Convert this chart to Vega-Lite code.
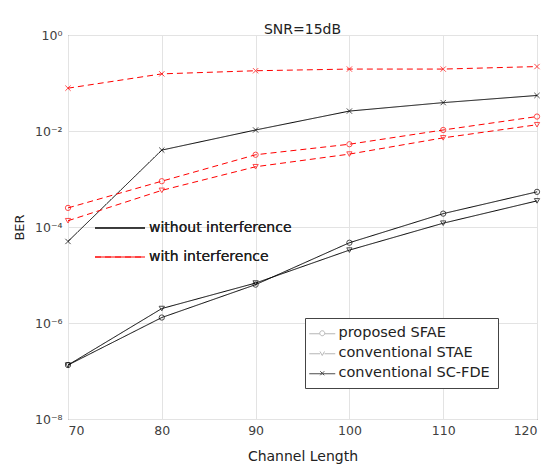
{
  "$schema": "https://vega.github.io/schema/vega-lite/v6.json",
  "width": 469,
  "height": 384,
  "autosize": {"type": "none"},
  "padding": {"left": 68, "top": 35, "right": 6, "bottom": 45},
  "background": "white",
  "title": {"text": "SNR=15dB", "fontSize": 14, "fontWeight": "normal", "font": "DejaVu Sans", "color": "#222", "anchor": "middle", "baseline": "alphabetic", "offset": 8, "dy": 27},
  "config": {
    "view": {"stroke": "#555", "strokeWidth": 1},
    "font": "DejaVu Sans",
    "axis": {"labelFont": "DejaVu Sans", "titleFont": "DejaVu Sans", "labelColor": "#404040", "titleColor": "#222", "titleFontWeight": "normal", "labelFontSize": 12.5, "titleFontSize": 14, "gridColor": "#e3e3e3", "gridWidth": 1, "domain": false, "ticks": false},
    "legend": {"labelFont": "DejaVu Sans", "labelColor": "#222"}
  },
  "resolve": {"scale": {"color": "independent", "shape": "independent"}},
  "data": {"values": [
    {"x": 70, "ber": 1.33e-7, "method": "proposed SFAE", "cond": "without interference"},
    {"x": 80, "ber": 1.3e-6, "method": "proposed SFAE", "cond": "without interference"},
    {"x": 90, "ber": 6.3e-6, "method": "proposed SFAE", "cond": "without interference"},
    {"x": 100, "ber": 4.7e-5, "method": "proposed SFAE", "cond": "without interference"},
    {"x": 110, "ber": 1.9e-4, "method": "proposed SFAE", "cond": "without interference"},
    {"x": 120, "ber": 5.4e-4, "method": "proposed SFAE", "cond": "without interference"},
    {"x": 70, "ber": 1.33e-7, "method": "conventional STAE", "cond": "without interference"},
    {"x": 80, "ber": 2.0e-6, "method": "conventional STAE", "cond": "without interference"},
    {"x": 90, "ber": 6.8e-6, "method": "conventional STAE", "cond": "without interference"},
    {"x": 100, "ber": 3.3e-5, "method": "conventional STAE", "cond": "without interference"},
    {"x": 110, "ber": 1.2e-4, "method": "conventional STAE", "cond": "without interference"},
    {"x": 120, "ber": 3.5e-4, "method": "conventional STAE", "cond": "without interference"},
    {"x": 70, "ber": 5.0e-5, "method": "conventional SC-FDE", "cond": "without interference"},
    {"x": 80, "ber": 4.0e-3, "method": "conventional SC-FDE", "cond": "without interference"},
    {"x": 90, "ber": 1.05e-2, "method": "conventional SC-FDE", "cond": "without interference"},
    {"x": 100, "ber": 2.6e-2, "method": "conventional SC-FDE", "cond": "without interference"},
    {"x": 110, "ber": 3.9e-2, "method": "conventional SC-FDE", "cond": "without interference"},
    {"x": 120, "ber": 5.5e-2, "method": "conventional SC-FDE", "cond": "without interference"},
    {"x": 70, "ber": 2.5e-4, "method": "proposed SFAE", "cond": "with interference"},
    {"x": 80, "ber": 9.0e-4, "method": "proposed SFAE", "cond": "with interference"},
    {"x": 90, "ber": 3.2e-3, "method": "proposed SFAE", "cond": "with interference"},
    {"x": 100, "ber": 5.3e-3, "method": "proposed SFAE", "cond": "with interference"},
    {"x": 110, "ber": 1.05e-2, "method": "proposed SFAE", "cond": "with interference"},
    {"x": 120, "ber": 2.0e-2, "method": "proposed SFAE", "cond": "with interference"},
    {"x": 70, "ber": 1.35e-4, "method": "conventional STAE", "cond": "with interference"},
    {"x": 80, "ber": 5.8e-4, "method": "conventional STAE", "cond": "with interference"},
    {"x": 90, "ber": 1.8e-3, "method": "conventional STAE", "cond": "with interference"},
    {"x": 100, "ber": 3.3e-3, "method": "conventional STAE", "cond": "with interference"},
    {"x": 110, "ber": 7.2e-3, "method": "conventional STAE", "cond": "with interference"},
    {"x": 120, "ber": 1.35e-2, "method": "conventional STAE", "cond": "with interference"},
    {"x": 70, "ber": 7.8e-2, "method": "conventional SC-FDE", "cond": "with interference"},
    {"x": 80, "ber": 0.155, "method": "conventional SC-FDE", "cond": "with interference"},
    {"x": 90, "ber": 0.18, "method": "conventional SC-FDE", "cond": "with interference"},
    {"x": 100, "ber": 0.195, "method": "conventional SC-FDE", "cond": "with interference"},
    {"x": 110, "ber": 0.195, "method": "conventional SC-FDE", "cond": "with interference"},
    {"x": 120, "ber": 0.22, "method": "conventional SC-FDE", "cond": "with interference"}
  ]},
  "encoding": {
    "x": {"field": "x", "type": "quantitative", "title": "Channel Length",
      "scale": {"domain": [70, 120], "nice": false, "zero": false},
      "axis": {"values": [70, 80, 90, 100, 110, 120], "grid": true, "labelPadding": 5, "titlePadding": 13}},
    "y": {"field": "ber", "type": "quantitative", "title": "BER",
      "scale": {"type": "log", "domain": [1e-8, 1], "nice": false},
      "axis": {"values": [1e-8, 1e-6, 1e-4, 1e-2, 1], "grid": true, "labelPadding": 6, "titleFontSize": 13, "titlePadding": 8,
        "labelExpr": "datum.value >= 0.5 ? '10⁰' : datum.value >= 0.005 ? '10⁻²' : datum.value >= 5e-5 ? '10⁻⁴' : datum.value >= 5e-7 ? '10⁻⁶' : '10⁻⁸'"}}
  },
  "layer": [
    {
      "mark": {"type": "line", "strokeWidth": 1},
      "encoding": {
        "color": {"field": "cond", "type": "nominal",
          "scale": {"domain": ["without interference", "with interference"], "range": ["#000000", "#ff0000"]},
          "legend": {"title": null, "orient": "none", "legendX": 25, "legendY": 186, "padding": 0, "symbolType": "M-5,0L5,0", "symbolSize": 100, "symbolOffset": 20, "symbolStrokeWidth": 1, "labelFontSize": 14, "labelOffset": 22, "rowPadding": 15}},
        "strokeDash": {"field": "cond", "type": "nominal",
          "scale": {"domain": ["without interference", "with interference"], "range": [[1, 0], [6, 4]]},
          "legend": {"title": null, "orient": "none", "legendX": 25, "legendY": 186, "padding": 0, "symbolType": "M-5,0L5,0", "symbolSize": 100, "symbolOffset": 20, "symbolStrokeWidth": 1, "labelFontSize": 14, "labelOffset": 22, "rowPadding": 15}},
        "detail": {"field": "method"}
      }
    },
    {
      "mark": {"type": "point", "filled": false, "size": 28, "strokeWidth": 1},
      "encoding": {
        "stroke": {"field": "cond", "type": "nominal",
          "scale": {"domain": ["without interference", "with interference"], "range": ["#000000", "#ff0000"]},
          "legend": null},
        "shape": {"field": "method", "type": "nominal",
          "scale": {"domain": ["proposed SFAE", "conventional STAE", "conventional SC-FDE"], "range": ["circle", "triangle-down", "M-1,-1L1,1M-1,1L1,-1"]},
          "legend": null}
      }
    },
    {
      "transform": [{"filter": "false"}],
      "mark": {"type": "point", "filled": false, "strokeWidth": 1},
      "encoding": {
        "color": {"field": "method", "type": "nominal",
          "scale": {"domain": ["proposed SFAE", "conventional STAE", "conventional SC-FDE"], "range": ["#999999", "#999999", "#000000"]},
          "legend": {"title": null, "orient": "none", "legendX": 237, "legendY": 283, "padding": 8, "strokeColor": "#444", "fillColor": "white", "symbolSize": 100, "symbolOffset": 2, "symbolStrokeWidth": 1, "symbolFillColor": "transparent", "labelFontSize": 14.5, "labelOffset": 9, "rowPadding": 5}},
        "shape": {"field": "method", "type": "nominal",
          "scale": {"domain": ["proposed SFAE", "conventional STAE", "conventional SC-FDE"], "range": [
            "M-2.6,0.1L-0.5,0.1M0.5,0.1L2.6,0.1M-0.5,0A0.5,0.5,0,1,1,0.5,0A0.5,0.5,0,1,1,-0.5,0",
            "M-2.6,0.1L-0.45,0.1M0.45,0.1L2.6,0.1M-0.45,-0.35L0,0.45L0.45,-0.35",
            "M-2.6,0.1L2.6,0.1M-0.4,-0.4L0.4,0.4M-0.4,0.4L0.4,-0.4"]},
          "legend": {"title": null, "orient": "none", "legendX": 237, "legendY": 283, "padding": 8, "strokeColor": "#444", "fillColor": "white", "symbolSize": 100, "symbolOffset": 2, "symbolStrokeWidth": 1, "symbolFillColor": "transparent", "labelFontSize": 14.5, "labelOffset": 9, "rowPadding": 5}}
      }
    }
  ]
}
